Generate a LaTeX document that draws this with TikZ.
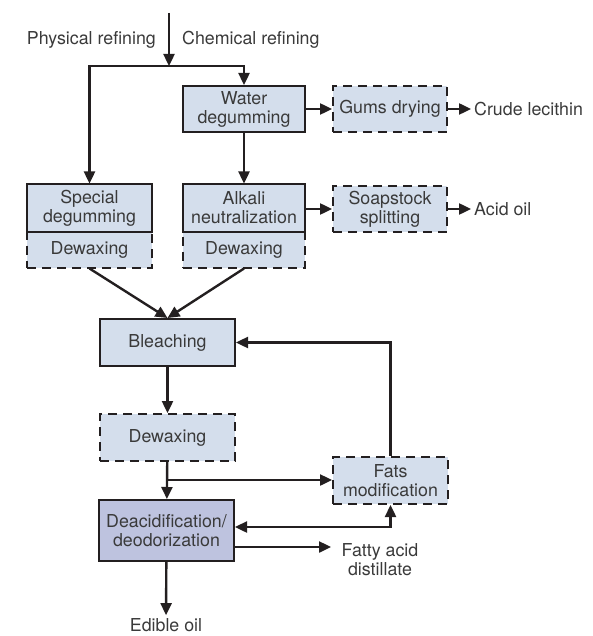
\documentclass[tikz,border=0pt]{standalone}
\usepackage{fontspec}
\setmainfont{TeX Gyre Heros}
\usepackage{tikz}
\usetikzlibrary{positioning, arrows.meta, calc}
\definecolor{boxblue}{HTML}{D4DEEC}
\definecolor{deacblue}{HTML}{BEC3DF}
\definecolor{inkgray}{HTML}{231F20}
\definecolor{textgray}{HTML}{3A3A3A}

\begin{document}
\begin{tikzpicture}[x=1pt, y=-1pt,
    font=\fontsize{17.8}{19}\selectfont, text=textgray,
    solidbox/.style={draw=inkgray, line width=2pt, fill=boxblue,
                     align=center, inner sep=1pt},
    dashbox/.style={solidbox, dash pattern=on 9pt off 6pt},
    flow/.style={draw=inkgray, line width=2.4pt,
                 -{Triangle[length=12pt, width=11pt]}},
    twoway/.style={flow, {Triangle[length=12pt, width=11pt]}-{Triangle[length=12pt, width=11pt]}},
    label/.style={align=center, inner sep=3pt}]
        \useasboundingbox (0,0) rectangle (592,636);
        % feed and the two refining routes
        \coordinate (feed) at (169,13);
        \coordinate (split) at (169,66);
        \node[label, anchor=east] (physical) at (159,40) {Physical refining};
        \node[label, anchor=west] (chemical) at (179,40) {Chemical refining};
        % chemical route, upper row
        \node[solidbox, minimum width=122pt, minimum height=46pt] (water)
              at (244,109) {Water\\degumming};
        \node[dashbox, minimum width=114pt, minimum height=46pt] (gums)
              at (390,109) {Gums drying};
        \node[label, anchor=west] (lecithin) at (471,109) {Crude lecithin};
        % split boxes (dewaxing first, so the solid edge lies on top)
        \node[dashbox, minimum width=125pt, minimum height=36pt] (specialwax)
              at (89.5,249.5) {Dewaxing};
        \node[solidbox, minimum width=125pt, minimum height=47pt] (special)
              at (89.5,208) {Special\\degumming};
        \node[dashbox, minimum width=122pt, minimum height=36pt] (alkaliwax)
              at (244,249.5) {Dewaxing};
        \node[solidbox, minimum width=122pt, minimum height=47pt] (alkali)
              at (244,208) {Alkali\\neutralization};
        \node[dashbox, minimum width=114pt, minimum height=46pt] (soap)
              at (390,209) {Soapstock\\splitting};
        \node[label, anchor=west] (acidoil) at (471,209) {Acid oil};
        % common line
        \node[solidbox, minimum width=135pt, minimum height=47pt] (bleach)
              at (167.5,342.5) {Bleaching};
        \node[dashbox, minimum width=135pt, minimum height=47pt] (dewax)
              at (167.5,437.5) {Dewaxing};
        \node[dashbox, minimum width=115pt, minimum height=47pt] (fats)
              at (390.5,480.5) {Fats\\modification};
        \node[solidbox, fill=deacblue, minimum width=135pt, minimum height=61pt] (deacid)
              at (166.5,530.5) {Deacidification/\\deodorization};
        \node[label] (fatty) at (380,560) {Fatty acid\\distillate};
        \node[label] (edible) at (166,625) {Edible oil};
        \coordinate (branch) at (167.5,480);
        \coordinate (fattyend) at (331,547);

        \draw[flow] (feed) -- (split);
        \draw[flow] (split) -| (special);
        \draw[flow] (split) -| (water);
        \draw[flow] (water) -- (gums);
        \draw[flow] (gums) -- (lecithin);
        \draw[flow] (water) -- (alkali);
        \draw[flow] (alkali.east |- soap) -- (soap);
        \draw[flow] (soap) -- (acidoil);
        \draw[flow] (specialwax.south) -- (bleach.north);
        \draw[flow] (alkaliwax.south) -- (bleach.north);
        \draw[flow] (bleach) -- (dewax);
        \draw[flow] (dewax) -- (deacid);
        \draw[flow] (branch) -- (fats.west |- branch);
        \draw[flow] (fats.north) |- (bleach.east);
        \draw[twoway] ([yshift=3.5pt]deacid.east) -| (fats.south);
        \draw[flow] ([yshift=-16.5pt]deacid.east) -- (fattyend);
        \draw[flow] (deacid) -- (edible);
      \end{tikzpicture}
\end{document}
